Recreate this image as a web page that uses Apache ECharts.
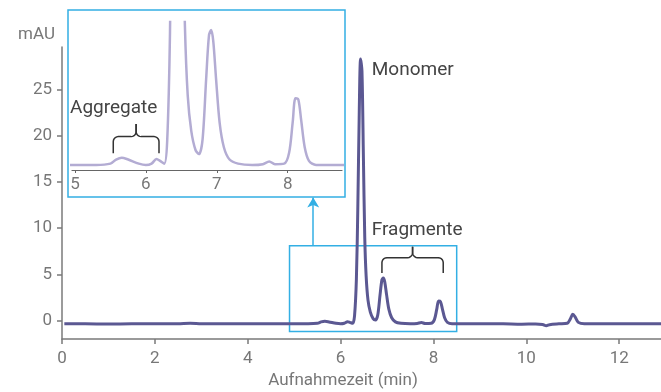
<!DOCTYPE html>
<html><head><meta charset="utf-8">
<script src="https://cdn.jsdelivr.net/npm/echarts@6/dist/echarts.min.js"></script>
<style>html,body{margin:0;padding:0;background:#fff}#c{width:661px;height:392px}</style>
</head><body><div id="c"></div>
<script>
// Retention time (min)
const times = [0.05,0.5,1.0,1.5,2.0,2.5,2.76,3.0,3.5,4.0,4.5,5.0,5.3,5.5,5.58,5.66,5.75,5.9,6.0,6.08,6.15,6.2,6.26,6.3,6.34,6.37,6.4,6.43,6.46,6.49,6.52,6.55,6.59,6.64,6.7,6.75,6.8,6.85,6.89,6.92,6.95,6.99,7.04,7.1,7.18,7.3,7.5,7.65,7.74,7.82,7.95,8.02,8.07,8.11,8.15,8.19,8.24,8.3,8.4,8.7,9.0,9.5,9.9,10.2,10.35,10.43,10.5,10.7,10.88,10.95,11.0,11.05,11.12,11.25,11.6,12.0,12.5,12.9];
// Absorbance (mAU)
const absorbance = [-0.35,-0.36,-0.37,-0.36,-0.36,-0.35,-0.3,-0.35,-0.36,-0.36,-0.35,-0.35,-0.35,-0.3,-0.15,-0.08,-0.15,-0.3,-0.35,-0.3,-0.13,-0.2,-0.3,0.5,4.5,12,22,28.3,27,18,9,4.8,2.2,0.9,0.2,0.05,0.6,2.8,4.4,4.6,4.2,2.8,1.2,0.3,-0.15,-0.3,-0.35,-0.32,-0.22,-0.32,-0.3,0.1,1.2,2.1,2.05,1.3,0.3,-0.2,-0.35,-0.35,-0.35,-0.36,-0.4,-0.38,-0.42,-0.56,-0.45,-0.36,-0.3,0.2,0.67,0.4,-0.2,-0.35,-0.35,-0.35,-0.36,-0.36];
const xTicksMain = [0,2,4,6,8,10,12];
const yTicksMain = [0,5,10,15,20,25];
const xTicksInset = [5,6,7,8];
const xRangeMain = [0,12.9];
const yRangeMain = [-2,29.6];
const xRangeInset = [4.958,8.766];
const yRangeInset = [-0.533,4.89];
const zoomBoxX = [4.9,8.5];
const zoomBoxY = [-1.2,8.1];
const arrowX = 5.41, arrowY = [8.1,13.3];

const pts = times.map((t,i)=>[t,absorbance[i]]);
const FONT = 'Roboto';
const GRAY = '#777';
const BLUE = '#33afe4';

const chart = echarts.init(document.getElementById('c'), null, {renderer:'canvas'});
chart.setOption({
  animation:false,
  backgroundColor:'#fff',
  textStyle:{fontFamily:FONT},
  grid:[
    {left:62,right:0,top:47,bottom:53,outerBoundsMode:'none'},
    {left:72,width:270,top:22,height:148,outerBoundsMode:'none'}
  ],
  xAxis:[
    {type:'value',gridIndex:0,min:xRangeMain[0],max:xRangeMain[1],
     name:'Aufnahmezeit (min)',nameLocation:'middle',nameGap:33,
     nameTextStyle:{fontSize:17,color:GRAY,fontFamily:FONT,padding:[0,37,0,0]},
     axisLine:{onZero:false,lineStyle:{color:'#7a7a7a',width:1.5}},
     axisTick:{show:true,length:5,customValues:xTicksMain,lineStyle:{color:'#7a7a7a',width:1.5}},
     axisLabel:{customValues:xTicksMain,fontSize:17,color:GRAY,margin:11,fontFamily:FONT},
     splitLine:{show:false}},
    {type:'value',gridIndex:1,min:xRangeInset[0],max:xRangeInset[1],
     axisLine:{onZero:false,lineStyle:{color:'#666',width:1.2}},
     axisTick:{show:true,length:3,customValues:xTicksInset,lineStyle:{color:'#666'}},
     axisLabel:{customValues:xTicksInset,fontSize:17,color:GRAY,margin:6,fontFamily:FONT},
     splitLine:{show:false}}
  ],
  yAxis:[
    {type:'value',gridIndex:0,min:yRangeMain[0],max:yRangeMain[1],
     name:'mAU',nameLocation:'end',nameGap:4,
     nameTextStyle:{fontSize:17,color:GRAY,align:'right',padding:[0,7,0,0],fontFamily:FONT},
     axisLine:{show:true,onZero:false,lineStyle:{color:'#7a7a7a',width:1.5}},
     axisTick:{show:true,length:5,customValues:yTicksMain,lineStyle:{color:'#7a7a7a',width:1.5}},
     axisLabel:{customValues:yTicksMain,fontSize:17,color:GRAY,margin:10,fontFamily:FONT},
     splitLine:{show:false}},
    {type:'value',gridIndex:1,min:yRangeInset[0],max:yRangeInset[1],show:false}
  ],
  series:[
    {type:'line',xAxisIndex:0,yAxisIndex:0,data:pts,showSymbol:false,smooth:0.3,
     lineStyle:{color:'#5b5892',width:3},clip:true,z:3,
     markArea:{silent:true,itemStyle:{color:'rgba(0,0,0,0)',borderColor:BLUE,borderWidth:1.5},
       data:[[{coord:[zoomBoxX[0],zoomBoxY[0]]},{coord:[zoomBoxX[1],zoomBoxY[1]]}]]},
     markLine:{silent:true,symbol:['none','arrow'],symbolSize:[9,10],label:{show:false},
       lineStyle:{color:BLUE,width:1.5,type:'solid'},
       data:[[{coord:[arrowX,arrowY[0]]},{coord:[arrowX,arrowY[1]]}]]}},
    {type:'line',xAxisIndex:1,yAxisIndex:1,data:pts,showSymbol:false,smooth:0.3,
     lineStyle:{color:'#b3acd3',width:2.5},clip:true,z:3}
  ]
});

function arc(cx,cy,r,a0,a1){
  const out=[];const n=5;
  for(let i=0;i<=n;i++){const a=(a0+(a1-a0)*i/n)*Math.PI/180;out.push([cx+r*Math.cos(a),cy+r*Math.sin(a)]);}
  return out;
}
function brace(x1,x2,yTip,yBar,yEnd){
  const xm=(x1+x2)/2, r=5;
  const left=[[x1,yEnd]].concat(arc(x1+r,yBar+r,r,180,270),arc(xm-r,yBar-r,r,90,0),[[xm,yTip]]);
  const right=[[xm,yTip]].concat(arc(xm+r,yBar-r,r,180,90),arc(x2-r,yBar+r,r,270,360),[[x2,yEnd]]);
  const st={stroke:'#333',lineWidth:1.5,fill:'none'};
  return [{type:'polyline',shape:{points:left},style:st,z:10},{type:'polyline',shape:{points:right},style:st,z:10}];
}
const P0=(x,y)=>chart.convertToPixel({xAxisIndex:0,yAxisIndex:0},[x,y]);
const P1=(x,y)=>chart.convertToPixel({xAxisIndex:1,yAxisIndex:1},[x,y]);
function label(p,text){
  return {type:'text',x:p[0],y:p[1],z:10,style:{text,font:'19px '+FONT,fill:'#444',align:'left',verticalAlign:'middle',textAlign:'left',textVerticalAlign:'middle'}};
}
const fragL=P0(6.89,5.15), fragR=P0(8.21,5.15), fragBar=P0(6.89,6.8), fragTip=P0(6.89,7.98);
const aggL=P1(5.54,0.08), aggR=P1(6.185,0.08), aggBar=P1(5.54,0.69), aggTip=P1(5.54,1.15);
const els=[
  {type:'rect',shape:{x:68,y:10,width:277,height:187},style:{fill:'none',stroke:BLUE,lineWidth:1.5},z:9},
  label(P0(6.67,27.1),'Monomer'),
  label(P0(6.67,9.8),'Fragmente'),
  label(P1(4.93,1.74),'Aggregate')
].concat(brace(fragL[0],fragR[0],fragTip[1],fragBar[1],fragL[1]),
         brace(aggL[0],aggR[0],aggTip[1],aggBar[1],aggL[1]));
chart.setOption({graphic:{elements:els}});
</script></body></html>
